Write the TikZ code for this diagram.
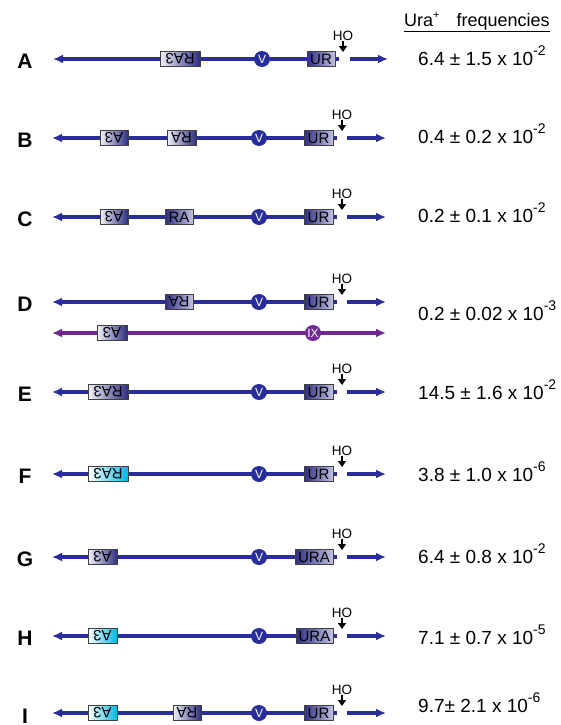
\documentclass[tikz,border=0pt]{standalone}
\usepackage{fontspec}
\setmainfont{Liberation Sans}
\usepackage{graphicx}
\usetikzlibrary{arrows.meta}
\definecolor{chromblue}{RGB}{40,45,155}
\definecolor{chrompurple}{RGB}{112,40,150}
\definecolor{gdark}{RGB}{45,45,130}
\definecolor{glight}{RGB}{242,242,250}
\definecolor{gmid}{RGB}{195,195,228}
\definecolor{gcyan}{RGB}{0,185,230}
\newcommand\flipt[1]{\rotatebox[origin=c]{180}{#1}}
\newcommand\sups[1]{\raisebox{10pt}{\fontsize{14}{14}\selectfont #1}}
\newcommand\hoMark[3]{%
  \node[hotext] (#1ho) at (#2,#3-23) {HO};
  \coordinate (#1hoe) at (#2,#3-7);
  \draw[hoarrow] (#1ho.south) -- (#1hoe);
}
\tikzset{
  chrom/.style={line width=3.4pt, draw=chromblue},
  chromp/.style={line width=3.4pt, draw=chrompurple},
  tipL/.style={-{Latex[length=10pt,width=9pt]}},
  genebox/.style={draw=black!75, line width=0.7pt, inner sep=0pt, minimum height=15pt,
    font=\fontsize{15}{15}\selectfont, text=black},
  inv/.style={left color=glight, right color=gdark},
  fwd/.style={left color=gdark, right color=gmid},
  invc/.style={left color=white, right color=gcyan},
  vcirc/.style={circle, fill=chromblue, text=white, inner sep=0pt, minimum size=16pt,
    font=\fontsize{12}{12}\selectfont},
  hotext/.style={font=\fontsize{13.5}{13.5}\selectfont, inner sep=0pt},
  hoarrow/.style={line width=1.4pt, -{Triangle[length=6pt,width=8pt]}},
  rowlab/.style={font=\fontsize{21}{21}\selectfont\bfseries, inner sep=0pt},
  freq/.style={font=\fontsize{19}{19}\selectfont, inner sep=0pt, anchor=base west},
}
\begin{document}
\begin{tikzpicture}[x=1pt,y=-1pt]
\fill[white] (0,0) rectangle (560,725);
\useasboundingbox (0,0) rectangle (560,725);

% header
\node[font=\fontsize{18}{18}\selectfont, inner sep=0pt, anchor=base west] (hdr) at (404,27)
  {Ura\raisebox{8pt}{\fontsize{11}{11}\selectfont +}\hspace{17pt}frequencies};
\draw[line width=1pt] ([yshift=-5pt]hdr.base west) -- ([yshift=-5pt]hdr.base east);

% ---------- A
\coordinate (aL) at (53,59); \coordinate (aM) at (339,59);
\coordinate (aR0) at (350,59); \coordinate (aR) at (388,59);
\draw[chrom,tipL] (aM) -- (aL);
\draw[chrom,tipL] (aR0) -- (aR);
\node[genebox,inv,minimum width=40pt] (aRA3) at (180,59) {\flipt{RA3}};
\node[vcirc] (aV) at (262,59) {V};
\node[genebox,fwd,minimum width=28pt] (aUR) at (321,59) {UR};
\hoMark{a}{343}{59}
\node[rowlab] (aLab) at (25,61) {A};
\node[freq] (aF) at (418,66) {6.4 ± 1.5 x 10\sups{-2}};

% ---------- B
\coordinate (bL) at (52,138); \coordinate (bM) at (337,138);
\coordinate (bR0) at (347,138); \coordinate (bR) at (386,138);
\draw[chrom,tipL] (bM) -- (bL);
\draw[chrom,tipL] (bR0) -- (bR);
\node[genebox,inv,minimum width=28pt] (bA3) at (114,138) {\flipt{A3}};
\node[genebox,inv,minimum width=29pt] (bRA) at (181.5,138) {\flipt{RA}};
\node[vcirc] (bV) at (259,138) {V};
\node[genebox,fwd,minimum width=29pt] (bUR) at (318.5,138) {UR};
\hoMark{b}{342}{138}
\node[rowlab] (bLab) at (25,140) {B};
\node[freq] (bF) at (418,143) {0.4 ± 0.2 x 10\sups{-2}};

% ---------- C
\coordinate (cL) at (52,217); \coordinate (cM) at (337,217);
\coordinate (cR0) at (347,217); \coordinate (cR) at (386,217);
\draw[chrom,tipL] (cM) -- (cL);
\draw[chrom,tipL] (cR0) -- (cR);
\node[genebox,inv,minimum width=28pt] (cA3) at (114,217) {\flipt{A3}};
\node[genebox,fwd,minimum width=28pt] (cRA) at (179,217) {RA};
\node[vcirc] (cV) at (259,217) {V};
\node[genebox,fwd,minimum width=29pt] (cUR) at (318.5,217) {UR};
\hoMark{c}{342}{217}
\node[rowlab] (cLab) at (25,219) {C};
\node[freq] (cF) at (418,222) {0.2 ± 0.1 x 10\sups{-2}};

% ---------- D
\coordinate (dL) at (52,302); \coordinate (dM) at (337,302);
\coordinate (dR0) at (347,302); \coordinate (dR) at (386,302);
\draw[chrom,tipL] (dM) -- (dL);
\draw[chrom,tipL] (dR0) -- (dR);
\node[genebox,fwd,minimum width=28pt] (dRA) at (179,302) {\flipt{RA}};
\node[vcirc] (dV) at (259,302) {V};
\node[genebox,fwd,minimum width=29pt] (dUR) at (318.5,302) {UR};
\hoMark{d}{342}{302}
\coordinate (pL) at (52,333); \coordinate (pM) at (220,333); \coordinate (pR) at (386,333);
\draw[chromp,tipL] (pM) -- (pL);
\draw[chromp,tipL] (pM) -- (pR);
\node[genebox,inv,minimum width=30pt] (pA3) at (112,333) {\flipt{A3}};
\node[vcirc,fill=chrompurple] (pIX) at (313,333) {IX};
\node[rowlab] (dLab) at (25,304) {D};
\node[freq] (dF) at (418,320) {0.2 ± 0.02 x 10\sups{-3}};

% ---------- E
\coordinate (eL) at (52,392); \coordinate (eM) at (337,392);
\coordinate (eR0) at (347,392); \coordinate (eR) at (386,392);
\draw[chrom,tipL] (eM) -- (eL);
\draw[chrom,tipL] (eR0) -- (eR);
\node[genebox,inv,minimum width=40pt] (eRA3) at (108,392) {\flipt{RA3}};
\node[vcirc] (eV) at (259,392) {V};
\node[genebox,fwd,minimum width=29pt] (eUR) at (318.5,392) {UR};
\hoMark{e}{342}{392}
\node[rowlab] (eLab) at (25,394) {E};
\node[freq] (eF) at (418,399) {14.5 ± 1.6 x 10\sups{-2}};

% ---------- F
\coordinate (fL) at (52,474); \coordinate (fM) at (337,474);
\coordinate (fR0) at (347,474); \coordinate (fR) at (386,474);
\draw[chrom,tipL] (fM) -- (fL);
\draw[chrom,tipL] (fR0) -- (fR);
\node[genebox,invc,minimum width=40pt] (fRA3) at (108,474) {\flipt{RA3}};
\node[vcirc] (fV) at (259,474) {V};
\node[genebox,fwd,minimum width=29pt] (fUR) at (318.5,474) {UR};
\hoMark{f}{342}{474}
\node[rowlab] (fLab) at (25,476) {F};
\node[freq] (fF) at (418,481) {3.8 ± 1.0 x 10\sups{-6}};

% ---------- G
\coordinate (gL) at (52,557); \coordinate (gM) at (337,557);
\coordinate (gR0) at (347,557); \coordinate (gR) at (386,557);
\draw[chrom,tipL] (gM) -- (gL);
\draw[chrom,tipL] (gR0) -- (gR);
\node[genebox,inv,minimum width=29pt] (gA3) at (102.5,557) {\flipt{A3}};
\node[vcirc] (gV) at (259,557) {V};
\node[genebox,fwd,minimum width=38pt] (gURA) at (314,557) {URA};
\hoMark{g}{342}{557}
\node[rowlab] (gLab) at (25,559) {G};
\node[freq] (gF) at (418,563) {6.4 ± 0.8 x 10\sups{-2}};

% ---------- H
\coordinate (hL) at (52,636); \coordinate (hM) at (337,636);
\coordinate (hR0) at (347,636); \coordinate (hR) at (386,636);
\draw[chrom,tipL] (hM) -- (hL);
\draw[chrom,tipL] (hR0) -- (hR);
\node[genebox,invc,minimum width=29pt] (hA3) at (102.5,636) {\flipt{A3}};
\node[vcirc] (hV) at (259,636) {V};
\node[genebox,fwd,minimum width=37pt] (hURA) at (314.5,636) {URA};
\hoMark{h}{342}{636}
\node[rowlab] (hLab) at (25,638) {H};
\node[freq] (hF) at (418,644) {7.1 ± 0.7 x 10\sups{-5}};

% ---------- I
\coordinate (iL) at (52,713); \coordinate (iM) at (337,713);
\coordinate (iR0) at (347,713); \coordinate (iR) at (386,713);
\draw[chrom,tipL] (iM) -- (iL);
\draw[chrom,tipL] (iR0) -- (iR);
\node[genebox,invc,minimum width=29pt] (iA3) at (102.5,713) {\flipt{A3}};
\node[genebox,inv,minimum width=28pt] (iRA) at (187,713) {\flipt{RA}};
\node[vcirc] (iV) at (259,713) {V};
\node[genebox,fwd,minimum width=29pt] (iUR) at (318.5,713) {UR};
\hoMark{i}{342}{713}
\node[rowlab] (iLab) at (25,716) {I};
\node[freq] (iF) at (418,712) {9.7± 2.1 x 10\sups{-6}};
\end{tikzpicture}
\end{document}
